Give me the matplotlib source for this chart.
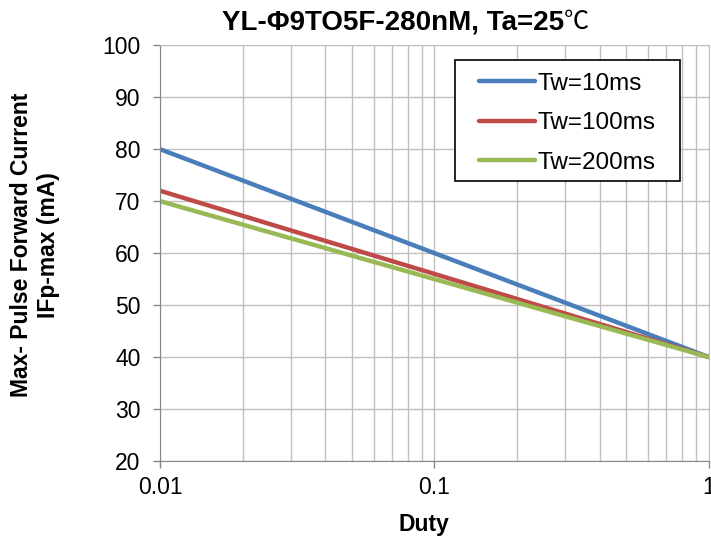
import matplotlib
matplotlib.use("Agg")
import matplotlib.pyplot as plt
from matplotlib.patches import Rectangle
from matplotlib.ticker import FixedLocator, NullFormatter

plt.rcParams['font.family'] = ['Liberation Sans', 'Noto Sans CJK SC', 'DejaVu Sans']

# data
duty = [0.01, 0.1, 1]
series_labels = ["Tw=10ms", "Tw=100ms", "Tw=200ms"]
ifp_10ms = [80, 60, 40]
ifp_100ms = [72, 56, 40]
ifp_200ms = [70, 55, 40]
colors = ["#4A7EBB", "#BE4B48", "#98B954"]

fig = plt.figure(figsize=(7.11, 5.38), dpi=100)
ax = fig.add_axes([0.225, 0.143, 0.772, 0.773])

for y, lab, c in zip([ifp_10ms, ifp_100ms, ifp_200ms], series_labels, colors):
    ax.plot(duty, y, color=c, lw=3.2, label=lab, solid_capstyle="round")

ax.set_xscale("log")
ax.set_xlim(0.01, 1)
ax.set_ylim(20, 100)
ax.set_yticks(range(20, 101, 10))
ax.set_xticks([0.01, 0.1, 1])
ax.set_xticklabels(["0.01", "0.1", "1"])
minor = [m * d for d in (0.01, 0.1) for m in range(2, 10)]
ax.xaxis.set_minor_locator(FixedLocator(minor))
ax.xaxis.set_minor_formatter(NullFormatter())

ax.grid(True, which="both", axis="x", color="#BFBFBF", lw=1)
ax.grid(True, which="major", axis="y", color="#BFBFBF", lw=1)
ax.set_axisbelow(True)

for s in ax.spines.values():
    s.set_color("#BFBFBF")
ax.spines["left"].set_color("#868686")
ax.spines["bottom"].set_color("#868686")
ax.tick_params(axis="both", which="major", labelsize=16.5, color="#868686", length=5, width=1)
ax.tick_params(axis="y", which="major", pad=9)
ax.tick_params(axis="x", which="minor", length=0)
ax.tick_params(axis="x", which="major", pad=6)

ax.set_xlabel("Duty", fontsize=16.5, fontweight="bold")
ax.xaxis.set_label_coords(0.481, -0.125)
ax.set_ylabel("Max- Pulse Forward Current\nIFp-max (mA)", fontsize=16.5, fontweight="bold")
ax.yaxis.set_label_coords(-0.182, 0.52)

# title: bold text, the degree sign in regular weight as in the reference
split_x = 564 / 711
title_y = 0.946
fig.text(split_x, title_y, "YL-Φ9TO5F-280nM, Ta=25", ha="right", va="baseline",
         fontsize=20, fontweight="bold")
fig.text(split_x, title_y, "℃", ha="left", va="baseline", fontsize=18,
         family=["Noto Sans CJK SC", "DejaVu Sans"])

# legend box: Excel-style frame with wide side padding
ax.add_patch(Rectangle((0.537, 0.673), 0.41, 0.291, transform=ax.transAxes,
                       facecolor="white", edgecolor="black", lw=1.2, zorder=4.9))
leg = ax.legend(loc="upper left", bbox_to_anchor=(0.581, 0.934), fontsize=17.5,
                frameon=False, handlelength=2.3, handletextpad=0.1,
                labelspacing=0.72, borderpad=0, borderaxespad=0)

fig.savefig("out.png", dpi=100)
